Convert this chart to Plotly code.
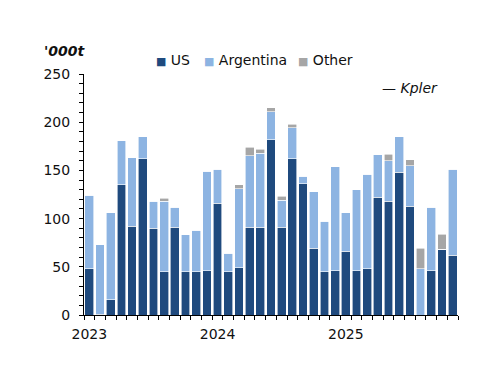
import plotly.graph_objects as go

months = [f"{y}-{m:02d}" for y in (2023, 2024, 2025) for m in range(1, 13)][:35]
us = [48, 1, 16, 135, 92, 162, 90, 45, 91, 45, 45, 46,
      116, 45, 49, 91, 91, 182, 91, 162, 136, 69, 45, 46,
      66, 46, 48, 122, 118, 148, 113, 0, 46, 68, 62]
argentina = [76, 72, 90, 46, 71, 23, 28, 73, 21, 38, 43, 103,
             35, 19, 82, 74, 77, 29, 28, 32, 8, 59, 52, 108,
             40, 84, 98, 44, 42, 37, 42, 48, 66, 0, 89]
other = [0, 0, 0, 0, 0, 0, 0, 3, 0, 0, 0, 0,
         0, 0, 4, 9, 4, 4, 4, 4, 0, 0, 0, 0,
         0, 0, 0, 0, 7, 0, 6, 21, 0, 16, 0]
year_labels = ["2023", "2024", "2025"]
series = [("US", us, "#1f4a7e"), ("Argentina", argentina, "#8db4e2"), ("Other", other, "#a6a6a6")]

x = list(range(len(months)))
FONT = "DejaVu Sans"
OFF = 8  # default page body margin
W, H = 500 - OFF, 386 - OFF
L, T = 84 - OFF, 74 - OFF
R, B = W - (458 - OFF), H - (315 - OFF)
PW, PH = W - L - R, H - T - B


def px(xr):  # reference pixel -> paper fraction
    return (xr - OFF - L) / PW


def py(yr):
    return 1 - (yr - OFF - T) / PH


fig = go.Figure()
for name, vals, col in series:
    fig.add_bar(x=x, y=vals, name=name, showlegend=False,
                marker=dict(color=col, line=dict(color="white", width=0.6)),
                customdata=months, hovertemplate="%{customdata}: %{y}<extra>" + name + "</extra>")

fig.update_layout(
    barmode="stack", bargap=0.18,
    width=W, height=H,
    margin=dict(l=L, r=R, t=T, b=B, autoexpand=False),
    paper_bgcolor="white", plot_bgcolor="white",
    font=dict(family=FONT, size=14, color="#111111"),
    showlegend=False,
    xaxis=dict(range=[-0.5, len(months) - 0.5], showline=True, linecolor="black", linewidth=1,
               tickvals=[0, 12, 24], ticktext=year_labels, ticks="", ticklen=0,
               ticklabelstandoff=6,
               minor=dict(tickvals=[i - 0.5 for i in range(len(months) + 1)], ticks="outside",
                          ticklen=4, tickcolor="black", tickwidth=1),
               showgrid=False, zeroline=False, automargin=False),
    yaxis=dict(range=[0, 250], dtick=50, showline=True, linecolor="black", linewidth=1,
               ticks="outside", ticklen=4, tickcolor="black", ticklabelstandoff=6,
               minor=dict(dtick=10, ticks="outside", ticklen=4, tickcolor="black"),
               showgrid=False, zeroline=False, automargin=False),
)
# legend drawn as text entries
legend_x = [154, 202, 296]
for (name, _, col), lx in zip(series, legend_x):
    fig.add_annotation(text=f"<span style='color:{col};font-size:11px'>■</span> {name}",
                       xref="paper", yref="paper", x=px(lx), y=py(60),
                       xanchor="left", yanchor="middle", showarrow=False,
                       font=dict(size=14))
fig.add_annotation(text="<b><i>'000t</i></b>", xref="paper", yref="paper",
                   x=px(42), y=py(51), xanchor="left", yanchor="middle",
                   showarrow=False, font=dict(size=14))
fig.add_annotation(text="<i>— Kpler</i>", xref="paper", yref="paper",
                   x=px(440), y=py(88), xanchor="right", yanchor="middle",
                   showarrow=False, font=dict(size=14))
fig.write_html("out.html")
